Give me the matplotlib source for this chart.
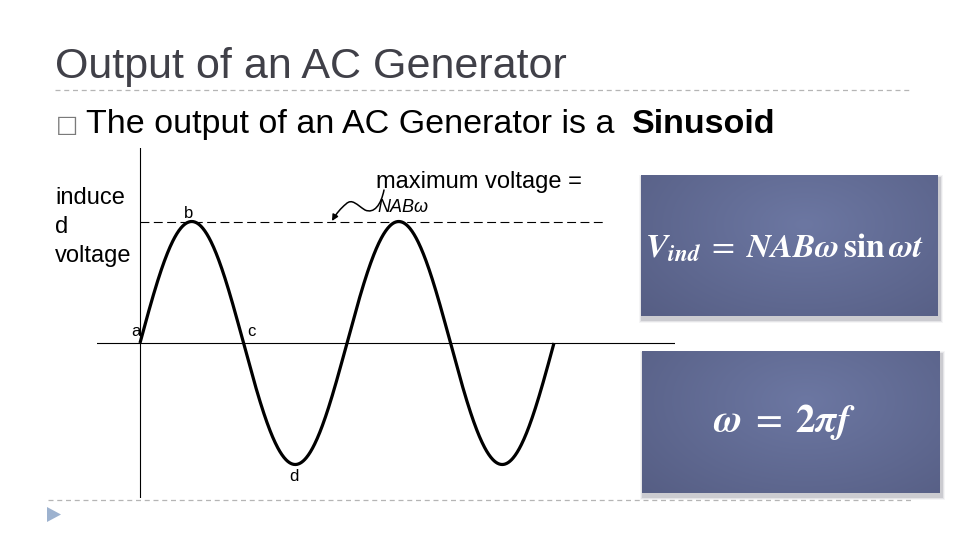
import numpy as np
import matplotlib
matplotlib.use("Agg")
import matplotlib.pyplot as plt
from matplotlib.patches import Rectangle, Polygon, FancyArrowPatch
from matplotlib.path import Path
import matplotlib.transforms as mtrans

plt.rcParams['font.family'] = ['Liberation Sans', 'DejaVu Sans']
plt.rcParams['mathtext.fontset'] = 'stix'

# ---- data ----
title_text = "Output of an AC Generator"
subtitle_regular = "The output of an AC Generator is a "
subtitle_bold = "Sinusoid"
y_label_lines = ["induce", "d", "voltage"]
max_label = "maximum voltage ="
max_expr = "NABω"
cycles = 2            # number of full periods shown
amplitude = 1.0       # peak voltage (NABω), normalised
point_labels = ["a", "b", "c", "d"]
point_phase = [0.0, 0.25, 0.5, 0.75]      # fraction of a period
point_value = [0.0, 1.0, 0.0, -1.0]
formula1 = r'$\mathbfit{V}_{\mathbfit{ind}}\;=\;\mathbfit{NAB\omega}\,\mathbf{sin}\,\mathbfit{\omega t}$'
formula2 = r'$\mathbfit{\omega}\;=\;\mathbf{2}\mathbfit{\pi f}$'

W, H = 960, 540
fig = plt.figure(figsize=(W / 100, H / 100), dpi=100)
fig.patch.set_facecolor('white')

# background / slide layer in pixel coordinates
bg = fig.add_axes([0, 0, 1, 1], zorder=0)
bg.set_xlim(0, W)
bg.set_ylim(H, 0)
bg.axis('off')

# title & separators
bg.text(55, 78, title_text, fontsize=31, color='#404048', va='baseline', ha='left')
bg.plot([55, 912], [90, 90], color='#b5b5b5', lw=0.9, ls=(0, (4, 3)))
bg.plot([48, 913], [500, 500], color='#b5b5b5', lw=0.9, ls=(0, (4, 3)))
bg.add_patch(Polygon([(47, 507), (47, 522), (61, 514.5)], closed=True,
                     facecolor='#9db2cf', edgecolor='none'))

# subtitle
bg.text(56, 132, "□", fontsize=17, color='#7a7a7a', family='DejaVu Sans', va='baseline')
t = bg.text(86, 133, subtitle_regular, fontsize=24.5, color='black', va='baseline')
fig.canvas.draw()
bb = t.get_window_extent()
x_end = bb.x1 + 8
bg.text(x_end, 133, subtitle_bold, fontsize=24.5, fontweight='bold', color='black',
        va='baseline', ha='left',
        transform=mtrans.blended_transform_factory(mtrans.IdentityTransform(), bg.transData))

# y label and max voltage text
for line, yb in zip(y_label_lines, [204, 233, 262]):
    bg.text(55, yb, line, fontsize=17, va='baseline', ha='left')
bg.text(376, 188, max_label, fontsize=17, va='baseline', ha='left')
bg.text(377, 212, max_expr, fontsize=13, style='italic', va='baseline', ha='left',
        family=['Liberation Sans', 'DejaVu Serif'])

# formula boxes with shadows and gradients
def grad_box(x0, y0, x1, y1):
    for k, a in zip([7, 5, 3], [0.05, 0.09, 0.15]):
        bg.add_patch(Rectangle((x0 - k / 2 + 1, y0 - k / 2 + 3), (x1 - x0) + k, (y1 - y0) + k,
                               facecolor='#404050', edgecolor='none', alpha=a, zorder=1))
    nx, ny = 300, 150
    gx, gy = np.meshgrid(np.linspace(0, 1, nx), np.linspace(0, 1, ny))
    r = np.sqrt(((gx - 0.55) / 0.75) ** 2 + ((gy - 0.35) / 0.95) ** 2)
    r = np.clip(r, 0, 1)
    light = np.array([108, 119, 162]) / 255
    dark = np.array([86, 94, 132]) / 255
    img = light[None, None, :] * (1 - r[..., None]) + dark[None, None, :] * r[..., None]
    bg.imshow(img, extent=(x0, x1, y1, y0), origin='upper', aspect='auto',
              interpolation='bilinear', zorder=2)

grad_box(641, 175, 938, 316)
grad_box(642, 351, 940, 493)
bg.text(785, 248, formula1, fontsize=24, color='white', ha='center', va='center', zorder=3)
bg.text(784, 422, formula2, fontsize=28, color='white', ha='center', va='center', zorder=3)
bg.set_xlim(0, W)
bg.set_ylim(H, 0)

# ---- the sinusoid chart ----
px_per_cycle = 207.0
px_per_unit = 121.5
x0_px, y0_px = 140.0, 343.0
left_px, right_px, top_px, bot_px = 97.0, 675.0, 148.0, 498.0
ax = fig.add_axes([left_px / W, 1 - bot_px / H, (right_px - left_px) / W, (bot_px - top_px) / H],
                  zorder=2)
ax.patch.set_alpha(0)
ax.set_xlim((left_px - x0_px) / px_per_cycle, (right_px - x0_px) / px_per_cycle)
ax.set_ylim(-(bot_px - y0_px) / px_per_unit, (y0_px - top_px) / px_per_unit)
ax.axis('off')

ax.axhline(0, color='black', lw=0.8)
ax.axvline(0, color='black', lw=0.8)
phase = np.linspace(0, cycles, 800)
ax.plot(phase, amplitude * np.sin(2 * np.pi * phase), color='black', lw=2.3,
        solid_capstyle='butt')
ax.plot([0, 2.246], [amplitude, amplitude], color='black', lw=0.8, ls=(0, (8, 4)))

offsets = [(-4.5, 11), (-3, 7.5), (8, 11), (-1, -12)]
for lab, ph, v, off in zip(point_labels, point_phase, point_value, offsets):
    ax.annotate(lab, xy=(ph, v * amplitude), xytext=off, textcoords='offset pixels',
                ha='center', va='center', fontsize=12)

# curly arrow pointing at the max line
verts = [(384, 190), (381, 205), (374, 214), (365, 210),
         (357, 205), (352, 198), (346, 204),
         (341, 208), (336, 214), (332, 221)]
codes = [Path.MOVETO] + [Path.CURVE4] * 9
arrow = FancyArrowPatch(path=Path(verts, codes), arrowstyle='-|>', mutation_scale=9,
                        color='black', lw=1.1, transform=bg.transData, zorder=4)
bg.add_patch(arrow)

fig.savefig('out.png', dpi=100, facecolor='white')
